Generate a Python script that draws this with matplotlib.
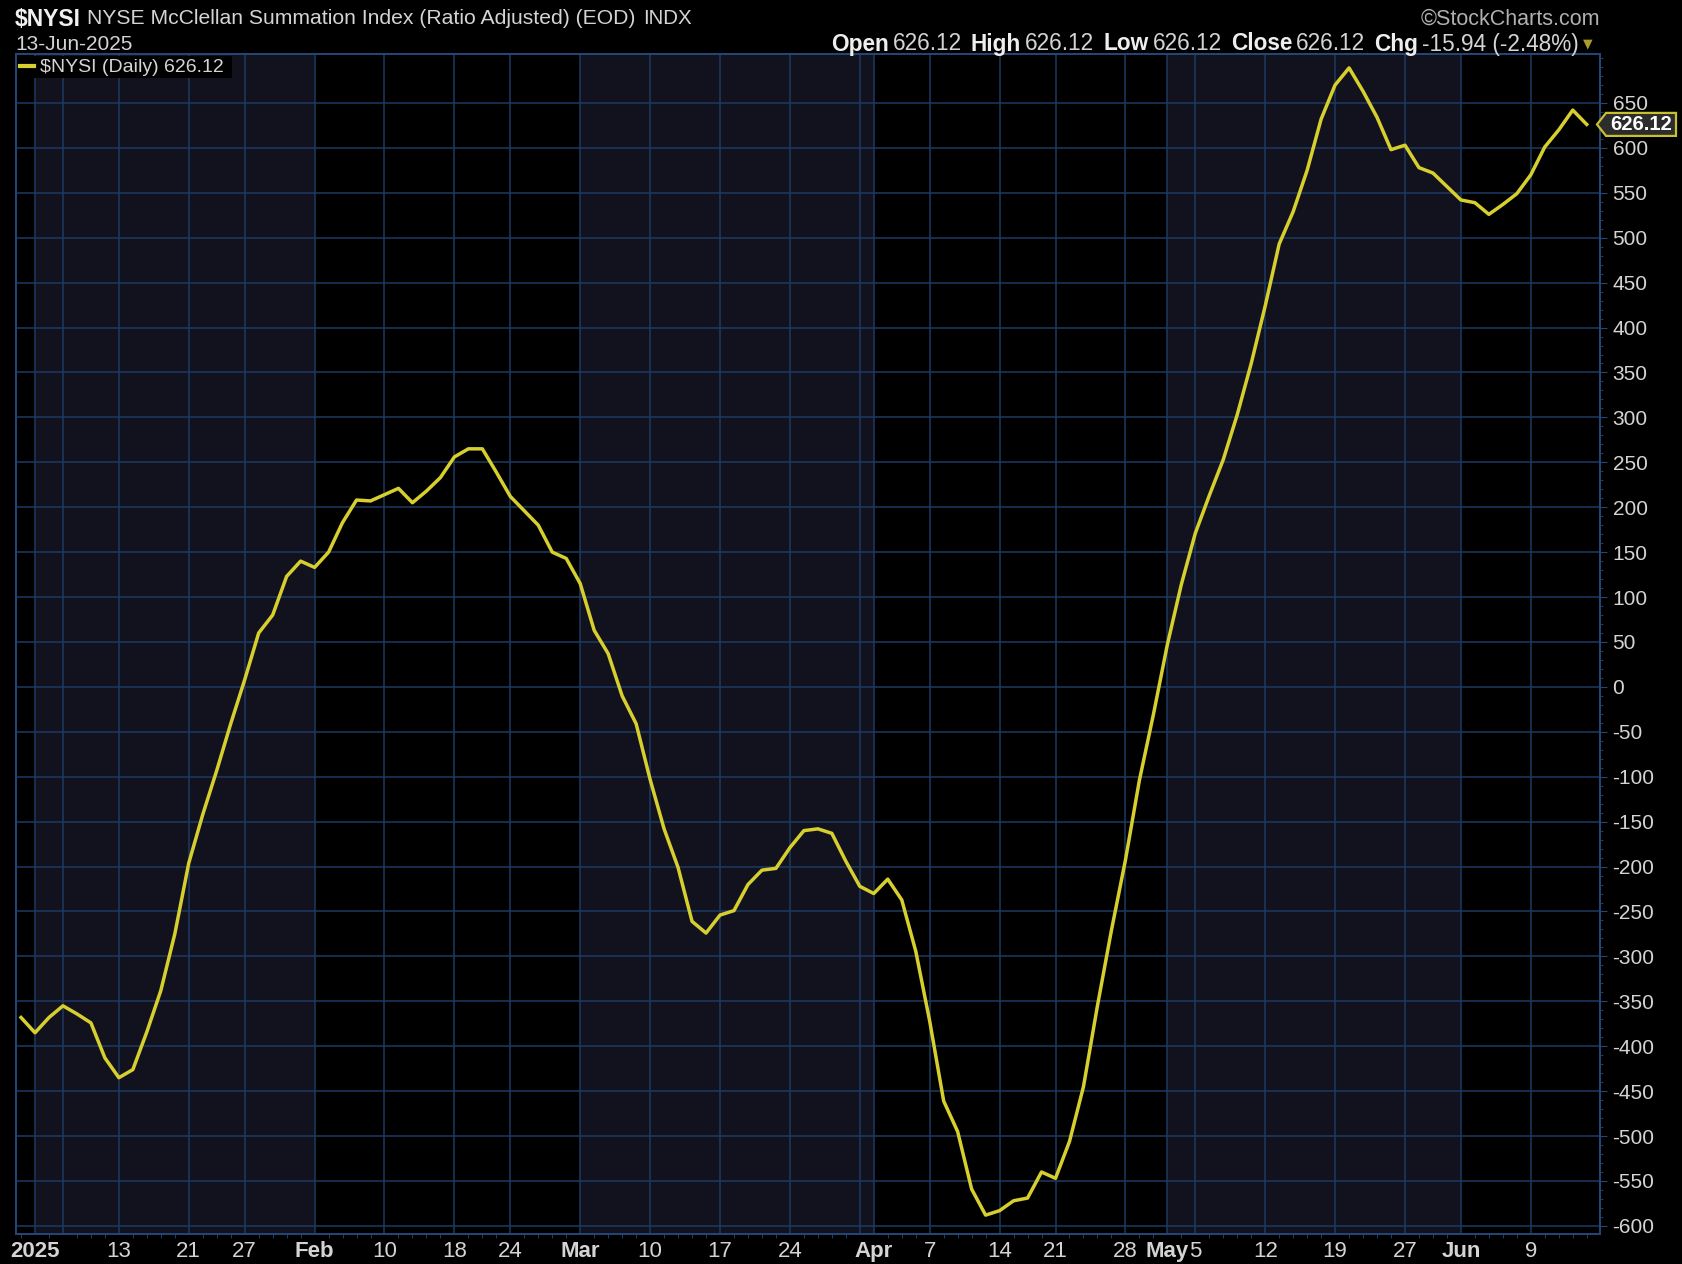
import numpy as np
import pandas as pd
import matplotlib
matplotlib.use('Agg')
import matplotlib.pyplot as plt
from matplotlib.patches import Polygon, Rectangle
from matplotlib.lines import Line2D
from matplotlib.transforms import IdentityTransform

plt.rcParams['font.family'] = ['Liberation Sans', 'DejaVu Sans']
plt.rcParams['axes.unicode_minus'] = False

# trading days on the chart (weekends and NYSE holidays left out)
holidays = ['2025-01-01', '2025-01-09', '2025-01-20', '2025-02-17', '2025-04-18', '2025-05-26']
days = pd.bdate_range('2024-12-31', '2025-06-13')
days = days[~days.isin(pd.to_datetime(holidays))]

# $NYSI daily close
nysi = [-368, -385, -368, -355, -364, -374, -413, -435, -426, -384,
        -338, -275, -196, -142, -93, -41, 8, 60, 80, 123,
        140, 133, 150, 183, 208, 207, 214, 221, 205, 218,
        233, 256, 265, 265, 239, 212, 196, 180, 150, 143,
        115, 63, 37, -10, -41, -103, -158, -201, -261, -274,
        -254, -249, -220, -204, -202, -179, -160, -158, -163, -194,
        -222, -230, -214, -237, -294, -372, -461, -495, -559, -588,
        -583, -572, -569, -540, -547, -506, -445, -355, -271, -193,
        -104, -31, 47, 114, 171, 213, 253, 303, 360, 424,
        493, 529, 575, 632, 670, 689, 663, 634, 598, 603,
        578, 572, 557, 542, 539, 526, 537, 549, 570, 601,
        620, 642.06, 626.12]

# weekly / month-start grid lines and their labels
grid_dates = ['2025-01-02', '2025-01-06', '2025-01-13', '2025-01-21', '2025-01-27',
              '2025-02-03', '2025-02-10', '2025-02-18', '2025-02-24',
              '2025-03-03', '2025-03-10', '2025-03-17', '2025-03-24', '2025-03-31',
              '2025-04-01', '2025-04-07', '2025-04-14', '2025-04-21', '2025-04-28',
              '2025-05-01', '2025-05-05', '2025-05-12', '2025-05-19', '2025-05-27',
              '2025-06-02', '2025-06-09']
grid_labels = ['2025', '', '13', '21', '27',
               'Feb', '10', '18', '24',
               'Mar', '10', '17', '24', '',
               'Apr', '7', '14', '21', '28',
               'May', '5', '12', '19', '27',
               'Jun', '9']
month_labels = ['2025', 'Feb', 'Mar', 'Apr', 'May', 'Jun']
shaded_months = [('2025-01-02', '2025-02-03'), ('2025-03-03', '2025-04-01'), ('2025-05-01', '2025-06-02')]
y_ticks = list(range(-600, 651, 50))

ohlc = [('Open', '626.12'), ('High', '626.12'), ('Low', '626.12'), ('Close', '626.12'),
        ('Chg', '-15.94 (-2.48%)')]

W, H = 1682, 1264
GRID = '#1d3a62'
TXT = '#d4d4d4'
YEL = '#d6cf2e'


def pos(d):
    return days.get_loc(pd.Timestamp(d))


fig = plt.figure(figsize=(W / 100, H / 100), dpi=100, facecolor='black')
ax = fig.add_axes([16 / W, 1 - 1234 / H, (1600 - 16) / W, (1234 - 54) / H])
ax.set_facecolor('black')

for a, b in shaded_months:
    ax.axvspan(pos(a), pos(b), color='#12121f', lw=0, zorder=0)

x = np.arange(len(days))
ax.plot(x, nysi, color=YEL, lw=2.5, solid_joinstyle='round', zorder=3)

ax.set_xlim(-0.36, 112.95)
ax.set_ylim(-609, 704.5)

# axes, grid and ticks
ax.set_xticks([pos(d) for d in grid_dates])
ax.set_xticklabels(grid_labels)
ax.set_xticks(x, minor=True)
ax.yaxis.tick_right()
ax.set_yticks(y_ticks)
ax.set_yticks(range(-600, 701, 10), minor=True)
ax.grid(True, which='major', color=GRID, lw=1.1, zorder=1)
ax.set_axisbelow(True)
for sp in ax.spines.values():
    sp.set_color('#24477a')
    sp.set_linewidth(1.4)
ax.tick_params(axis='x', which='major', length=0, pad=5, labelsize=16, labelcolor=TXT)
ax.tick_params(axis='x', which='minor', length=3, color='#24477a', direction='out')
ax.tick_params(axis='y', which='major', length=5, pad=4, labelsize=15, labelcolor=TXT, color='#24477a')
ax.tick_params(axis='y', which='minor', length=2.5, color='#24477a')
for lbl in ax.get_xticklabels():
    if lbl.get_text() in month_labels:
        lbl.set_fontweight('bold')

renderer = fig.canvas.get_renderer()


def put_row(pieces, x0, y):
    # pieces laid left to right in figure pixels, y measured from top
    xc = x0
    for s, kw, gap in pieces:
        t = fig.text(xc / W, 1 - y / H, s, ha='left', va='center', **kw)
        xc += t.get_window_extent(renderer).width + gap
    return xc


# header
put_row([(r'\$NYSI', dict(fontsize=16.5, fontweight='bold', color='#f0f0f0'), 6),
         ('NYSE McClellan Summation Index (Ratio Adjusted) (EOD)', dict(fontsize=15.2, color=TXT), 8),
         ('INDX', dict(fontsize=14.8, color=TXT), 0)], 15, 19)
fig.text(15 / W, 1 - 44 / H, '13-Jun-2025', fontsize=15, color=TXT, va='center')
fig.text(1600 / W, 1 - 19 / H, '\u00a9StockCharts.com', fontsize=15.5, color='#b0b0b0',
         ha='right', va='center')

pieces = []
for name, val in ohlc:
    pieces.append((name, dict(fontsize=16.3, fontweight='bold', color='#eeeeee'), 4))
    pieces.append((val, dict(fontsize=16.3, color=TXT), 9))
end = put_row(pieces, 831, 44)
fig.text((end - 5) / W, 1 - 44 / H, '\u25bc', fontsize=9, color='#a89c2a', va='center',
         family='DejaVu Sans')

# legend box
fig.patches.append(Rectangle((17 / W, 1 - 78 / H), 215 / W, 22 / H, transform=fig.transFigure,
                             facecolor='black', edgecolor='none', zorder=4))
fig.lines.append(Line2D([20 / W, 34 / W], [1 - 66 / H, 1 - 66 / H], transform=fig.transFigure,
                        color=YEL, lw=3, zorder=5))
fig.text(40 / W, 1 - 67 / H, r'\$NYSI (Daily) 626.12', fontsize=14, color=TXT, va='center', zorder=5)

# last value tag on the price axis
yl = ax.transData.transform((0, nysi[-1]))[1]
h = 11.5
tag = Polygon([(1597, yl), (1606, yl + h), (1676, yl + h), (1676, yl - h), (1606, yl - h)],
              closed=True, transform=IdentityTransform(), facecolor='#2c2c2c',
              edgecolor='#c8c030', lw=1.6, zorder=6)
fig.patches.append(tag)
fig.text(1641 / W, yl / H, f'{nysi[-1]:.2f}', fontsize=14.5, fontweight='bold', color='white',
         ha='center', va='center', zorder=7)

fig.savefig('out.png', dpi=100, facecolor='black')
